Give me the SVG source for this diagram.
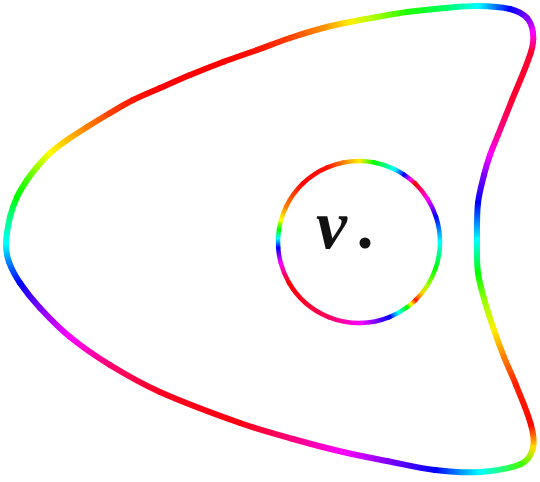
<svg xmlns="http://www.w3.org/2000/svg" width="540" height="482" viewBox="0 0 540 482">
<style>
.o{fill:none;stroke-width:6;stroke-linecap:round}
.c{fill:none;stroke-width:4.5;stroke-linecap:round}
.lbl{font-family:"Liberation Serif","DejaVu Serif",serif;font-style:italic;font-weight:bold;font-size:70px;fill:#111}
</style>
<defs>
<linearGradient id="o0" gradientUnits="userSpaceOnUse" x1="6" y1="244" x2="10" y2="217"><stop stop-color="#00ffff"/><stop offset="1" stop-color="#00ff80"/></linearGradient>
<linearGradient id="o1" gradientUnits="userSpaceOnUse" x1="10" y1="217" x2="17" y2="197"><stop stop-color="#00ff80"/><stop offset="1" stop-color="#00ff00"/></linearGradient>
<linearGradient id="o2" gradientUnits="userSpaceOnUse" x1="17" y1="197" x2="27" y2="180"><stop stop-color="#00ff00"/><stop offset="1" stop-color="#40ff00"/></linearGradient>
<linearGradient id="o3" gradientUnits="userSpaceOnUse" x1="27" y1="180" x2="37" y2="167"><stop stop-color="#40ff00"/><stop offset="1" stop-color="#a0ff00"/></linearGradient>
<linearGradient id="o4" gradientUnits="userSpaceOnUse" x1="37" y1="167" x2="50" y2="153"><stop stop-color="#a0ff00"/><stop offset="1" stop-color="#ffff00"/></linearGradient>
<linearGradient id="o5" gradientUnits="userSpaceOnUse" x1="50" y1="153" x2="67" y2="140"><stop stop-color="#ffff00"/><stop offset="1" stop-color="#ffc000"/></linearGradient>
<linearGradient id="o6" gradientUnits="userSpaceOnUse" x1="67" y1="140" x2="87" y2="127"><stop stop-color="#ffc000"/><stop offset="1" stop-color="#ff8000"/></linearGradient>
<linearGradient id="o7" gradientUnits="userSpaceOnUse" x1="87" y1="127" x2="110" y2="113"><stop stop-color="#ff8000"/><stop offset="1" stop-color="#ff4000"/></linearGradient>
<linearGradient id="o8" gradientUnits="userSpaceOnUse" x1="110" y1="113" x2="133" y2="100"><stop stop-color="#ff4000"/><stop offset="1" stop-color="#ff1800"/></linearGradient>
<linearGradient id="o9" gradientUnits="userSpaceOnUse" x1="133" y1="100" x2="160" y2="88"><stop stop-color="#ff1800"/><stop offset="1" stop-color="#ff0000"/></linearGradient>
<linearGradient id="o12" gradientUnits="userSpaceOnUse" x1="223" y1="62" x2="257" y2="50"><stop stop-color="#ff0000"/><stop offset="1" stop-color="#ff1000"/></linearGradient>
<linearGradient id="o13" gradientUnits="userSpaceOnUse" x1="257" y1="50" x2="290" y2="38"><stop stop-color="#ff1000"/><stop offset="1" stop-color="#ff4000"/></linearGradient>
<linearGradient id="o14" gradientUnits="userSpaceOnUse" x1="290" y1="38" x2="323" y2="28"><stop stop-color="#ff4000"/><stop offset="1" stop-color="#ff9000"/></linearGradient>
<linearGradient id="o15" gradientUnits="userSpaceOnUse" x1="323" y1="28" x2="350" y2="22"><stop stop-color="#ff9000"/><stop offset="1" stop-color="#ffee00"/></linearGradient>
<linearGradient id="o16" gradientUnits="userSpaceOnUse" x1="350" y1="22" x2="377" y2="17"><stop stop-color="#ffee00"/><stop offset="1" stop-color="#a0ff00"/></linearGradient>
<linearGradient id="o17" gradientUnits="userSpaceOnUse" x1="377" y1="17" x2="407" y2="12"><stop stop-color="#a0ff00"/><stop offset="1" stop-color="#20ff00"/></linearGradient>
<linearGradient id="o18" gradientUnits="userSpaceOnUse" x1="407" y1="12" x2="445" y2="8"><stop stop-color="#20ff00"/><stop offset="1" stop-color="#00ff60"/></linearGradient>
<linearGradient id="o19" gradientUnits="userSpaceOnUse" x1="445" y1="8" x2="478" y2="6"><stop stop-color="#00ff60"/><stop offset="1" stop-color="#00ffff"/></linearGradient>
<linearGradient id="o20" gradientUnits="userSpaceOnUse" x1="478" y1="6" x2="510" y2="9"><stop stop-color="#00ffff"/><stop offset="1" stop-color="#0000ff"/></linearGradient>
<linearGradient id="o21" gradientUnits="userSpaceOnUse" x1="510" y1="9" x2="527" y2="18"><stop stop-color="#0000ff"/><stop offset="1" stop-color="#8000ff"/></linearGradient>
<linearGradient id="o22" gradientUnits="userSpaceOnUse" x1="527" y1="18" x2="533" y2="33"><stop stop-color="#8000ff"/><stop offset="1" stop-color="#ff00ff"/></linearGradient>
<linearGradient id="o23" gradientUnits="userSpaceOnUse" x1="533" y1="33" x2="531" y2="52"><stop stop-color="#ff00ff"/><stop offset="1" stop-color="#ff0030"/></linearGradient>
<linearGradient id="o25" gradientUnits="userSpaceOnUse" x1="512" y1="100" x2="498" y2="135"><stop stop-color="#ff0030"/><stop offset="1" stop-color="#ff0090"/></linearGradient>
<linearGradient id="o26" gradientUnits="userSpaceOnUse" x1="498" y1="135" x2="490" y2="155"><stop stop-color="#ff0090"/><stop offset="1" stop-color="#ff00ff"/></linearGradient>
<linearGradient id="o27" gradientUnits="userSpaceOnUse" x1="490" y1="155" x2="484" y2="175"><stop stop-color="#ff00ff"/><stop offset="1" stop-color="#8000ff"/></linearGradient>
<linearGradient id="o28" gradientUnits="userSpaceOnUse" x1="484" y1="175" x2="478" y2="203"><stop stop-color="#8000ff"/><stop offset="1" stop-color="#0000ff"/></linearGradient>
<linearGradient id="o29" gradientUnits="userSpaceOnUse" x1="478" y1="203" x2="477" y2="240"><stop stop-color="#0000ff"/><stop offset="1" stop-color="#00ffff"/></linearGradient>
<linearGradient id="o30" gradientUnits="userSpaceOnUse" x1="477" y1="240" x2="478" y2="273"><stop stop-color="#00ffff"/><stop offset="1" stop-color="#00ff00"/></linearGradient>
<linearGradient id="o31" gradientUnits="userSpaceOnUse" x1="478" y1="273" x2="485" y2="302"><stop stop-color="#00ff00"/><stop offset="1" stop-color="#a0ff00"/></linearGradient>
<linearGradient id="o32" gradientUnits="userSpaceOnUse" x1="485" y1="302" x2="494" y2="330"><stop stop-color="#a0ff00"/><stop offset="1" stop-color="#ffee00"/></linearGradient>
<linearGradient id="o33" gradientUnits="userSpaceOnUse" x1="494" y1="330" x2="504" y2="357"><stop stop-color="#ffee00"/><stop offset="1" stop-color="#ff8000"/></linearGradient>
<linearGradient id="o34" gradientUnits="userSpaceOnUse" x1="504" y1="357" x2="516" y2="385"><stop stop-color="#ff8000"/><stop offset="1" stop-color="#ff2000"/></linearGradient>
<linearGradient id="o35" gradientUnits="userSpaceOnUse" x1="516" y1="385" x2="531" y2="425"><stop stop-color="#ff2000"/><stop offset="1" stop-color="#ff0800"/></linearGradient>
<linearGradient id="o36" gradientUnits="userSpaceOnUse" x1="531" y1="425" x2="533" y2="448"><stop stop-color="#ff0800"/><stop offset="1" stop-color="#ffdd00"/></linearGradient>
<linearGradient id="o37" gradientUnits="userSpaceOnUse" x1="533" y1="448" x2="521" y2="464"><stop stop-color="#ffdd00"/><stop offset="1" stop-color="#40ff00"/></linearGradient>
<linearGradient id="o38" gradientUnits="userSpaceOnUse" x1="521" y1="464" x2="480" y2="472"><stop stop-color="#40ff00"/><stop offset="1" stop-color="#00ffff"/></linearGradient>
<linearGradient id="o39" gradientUnits="userSpaceOnUse" x1="480" y1="472" x2="435" y2="470"><stop stop-color="#00ffff"/><stop offset="1" stop-color="#0000ff"/></linearGradient>
<linearGradient id="o40" gradientUnits="userSpaceOnUse" x1="435" y1="470" x2="387" y2="461"><stop stop-color="#0000ff"/><stop offset="1" stop-color="#8000ff"/></linearGradient>
<linearGradient id="o41" gradientUnits="userSpaceOnUse" x1="387" y1="461" x2="343" y2="452"><stop stop-color="#8000ff"/><stop offset="1" stop-color="#ff00ff"/></linearGradient>
<linearGradient id="o42" gradientUnits="userSpaceOnUse" x1="343" y1="452" x2="293" y2="439"><stop stop-color="#ff00ff"/><stop offset="1" stop-color="#ff0080"/></linearGradient>
<linearGradient id="o43" gradientUnits="userSpaceOnUse" x1="293" y1="439" x2="240" y2="423"><stop stop-color="#ff0080"/><stop offset="1" stop-color="#ff0010"/></linearGradient>
<linearGradient id="o44" gradientUnits="userSpaceOnUse" x1="240" y1="423" x2="160" y2="392"><stop stop-color="#ff0010"/><stop offset="1" stop-color="#ff0020"/></linearGradient>
<linearGradient id="o45" gradientUnits="userSpaceOnUse" x1="160" y1="392" x2="110" y2="365"><stop stop-color="#ff0020"/><stop offset="1" stop-color="#ff0070"/></linearGradient>
<linearGradient id="o46" gradientUnits="userSpaceOnUse" x1="110" y1="365" x2="70" y2="337"><stop stop-color="#ff0070"/><stop offset="1" stop-color="#ff00ff"/></linearGradient>
<linearGradient id="o47" gradientUnits="userSpaceOnUse" x1="70" y1="337" x2="40" y2="308"><stop stop-color="#ff00ff"/><stop offset="1" stop-color="#8000ff"/></linearGradient>
<linearGradient id="o48" gradientUnits="userSpaceOnUse" x1="40" y1="308" x2="20" y2="283"><stop stop-color="#8000ff"/><stop offset="1" stop-color="#0000ff"/></linearGradient>
<linearGradient id="o49" gradientUnits="userSpaceOnUse" x1="20" y1="283" x2="9" y2="262"><stop stop-color="#0000ff"/><stop offset="1" stop-color="#0080ff"/></linearGradient>
<linearGradient id="o50" gradientUnits="userSpaceOnUse" x1="9" y1="262" x2="6" y2="244"><stop stop-color="#0080ff"/><stop offset="1" stop-color="#00ffff"/></linearGradient>

<linearGradient id="c0" gradientUnits="userSpaceOnUse" x1="359" y1="161" x2="374.46" y2="162.49"><stop stop-color="#ffee00"/><stop offset="1" stop-color="#00ff00"/></linearGradient>
<linearGradient id="c1" gradientUnits="userSpaceOnUse" x1="374.46" y1="162.49" x2="394.51" y2="169.2"><stop stop-color="#00ff00"/><stop offset="1" stop-color="#00ffff"/></linearGradient>
<linearGradient id="c2" gradientUnits="userSpaceOnUse" x1="394.51" y1="169.2" x2="404.29" y2="174.85"><stop stop-color="#00ffff"/><stop offset="1" stop-color="#0000ff"/></linearGradient>
<linearGradient id="c3" gradientUnits="userSpaceOnUse" x1="404.29" y1="174.85" x2="415.27" y2="183.73"><stop stop-color="#0000ff"/><stop offset="0.5" stop-color="#ff00ff"/><stop offset="1" stop-color="#ff0000"/></linearGradient>
<linearGradient id="c4" gradientUnits="userSpaceOnUse" x1="415.27" y1="183.73" x2="427.69" y2="199.08"><stop stop-color="#ff0000"/><stop offset="1" stop-color="#ff00ff"/></linearGradient>
<linearGradient id="c5" gradientUnits="userSpaceOnUse" x1="427.69" y1="199.08" x2="436.04" y2="216.97"><stop stop-color="#ff00ff"/><stop offset="1" stop-color="#0000ff"/></linearGradient>
<linearGradient id="c6" gradientUnits="userSpaceOnUse" x1="436.04" y1="216.97" x2="440" y2="242"><stop stop-color="#0000ff"/><stop offset="1" stop-color="#00ffff"/></linearGradient>
<linearGradient id="c7" gradientUnits="userSpaceOnUse" x1="440" y1="242" x2="435.59" y2="268.37"><stop stop-color="#00ffff"/><stop offset="1" stop-color="#00ff00"/></linearGradient>
<linearGradient id="c8" gradientUnits="userSpaceOnUse" x1="435.59" y1="268.37" x2="426.93" y2="286.11"><stop stop-color="#00ff00"/><stop offset="1" stop-color="#aaff00"/></linearGradient>
<linearGradient id="c9" gradientUnits="userSpaceOnUse" x1="426.93" y1="286.11" x2="415.27" y2="300.27"><stop stop-color="#aaff00"/><stop offset="0.5" stop-color="#ffcc00"/><stop offset="1" stop-color="#ff2000"/></linearGradient>
<linearGradient id="c10" gradientUnits="userSpaceOnUse" x1="415.27" y1="300.27" x2="406.61" y2="307.53"><stop stop-color="#ff2000"/><stop offset="0.5" stop-color="#ffff00"/><stop offset="1" stop-color="#00ff00"/></linearGradient>
<linearGradient id="c11" gradientUnits="userSpaceOnUse" x1="406.61" y1="307.53" x2="389.34" y2="317.1"><stop stop-color="#00ff00"/><stop offset="0.5" stop-color="#00ffff"/><stop offset="1" stop-color="#0000ff"/></linearGradient>
<linearGradient id="c12" gradientUnits="userSpaceOnUse" x1="389.34" y1="317.1" x2="360.41" y2="322.99"><stop stop-color="#0000ff"/><stop offset="1" stop-color="#ff00ff"/></linearGradient>
<linearGradient id="c13" gradientUnits="userSpaceOnUse" x1="360.41" y1="322.99" x2="328.66" y2="317.1"><stop stop-color="#ff00ff"/><stop offset="1" stop-color="#ff0060"/></linearGradient>
<linearGradient id="c14" gradientUnits="userSpaceOnUse" x1="328.66" y1="317.1" x2="288.85" y2="282.5"><stop stop-color="#ff0060"/><stop offset="1" stop-color="#ff0000"/></linearGradient>
<linearGradient id="c15" gradientUnits="userSpaceOnUse" x1="288.85" y1="282.5" x2="280.76" y2="262.96"><stop stop-color="#ff0000"/><stop offset="1" stop-color="#ff00ff"/></linearGradient>
<linearGradient id="c16" gradientUnits="userSpaceOnUse" x1="280.76" y1="262.96" x2="278.19" y2="247.65"><stop stop-color="#ff00ff"/><stop offset="1" stop-color="#0000ff"/></linearGradient>
<linearGradient id="c17" gradientUnits="userSpaceOnUse" x1="278.19" y1="247.65" x2="278.99" y2="229.33"><stop stop-color="#0000ff"/><stop offset="0.5" stop-color="#00ffff"/><stop offset="1" stop-color="#00ff00"/></linearGradient>
<linearGradient id="c18" gradientUnits="userSpaceOnUse" x1="278.99" y1="229.33" x2="281.14" y2="219.67"><stop stop-color="#00ff00"/><stop offset="1" stop-color="#ffff00"/></linearGradient>
<linearGradient id="c19" gradientUnits="userSpaceOnUse" x1="281.14" y1="219.67" x2="286.2" y2="206.49"><stop stop-color="#ffff00"/><stop offset="1" stop-color="#ff8000"/></linearGradient>
<linearGradient id="c20" gradientUnits="userSpaceOnUse" x1="286.2" y1="206.49" x2="302.73" y2="183.73"><stop stop-color="#ff8000"/><stop offset="1" stop-color="#ff0000"/></linearGradient>
<linearGradient id="c21" gradientUnits="userSpaceOnUse" x1="302.73" y1="183.73" x2="327.35" y2="167.44"><stop stop-color="#ff0000"/><stop offset="1" stop-color="#ff1000"/></linearGradient>
<linearGradient id="c22" gradientUnits="userSpaceOnUse" x1="327.35" y1="167.44" x2="343.54" y2="162.49"><stop stop-color="#ff1000"/><stop offset="1" stop-color="#ff8000"/></linearGradient>
<linearGradient id="c23" gradientUnits="userSpaceOnUse" x1="343.54" y1="162.49" x2="359" y2="161"><stop stop-color="#ff8000"/><stop offset="1" stop-color="#ffee00"/></linearGradient>
</defs>
<rect width="540" height="482" fill="#ffffff"/>
<g id="outer-curve">
<path class="o" stroke="url(#o0)" d="M6,244 C6.2,234.9 7.93,225.86 10,217"/>
<path class="o" stroke="url(#o1)" d="M10,217 C11.61,210.12 14.05,203.42 17,197"/>
<path class="o" stroke="url(#o2)" d="M17,197 C19.74,191.03 23.36,185.47 27,180"/>
<path class="o" stroke="url(#o3)" d="M27,180 C30.03,175.45 33.45,171.16 37,167"/>
<path class="o" stroke="url(#o4)" d="M37,167 C41.13,162.15 45.27,157.26 50,153"/>
<path class="o" stroke="url(#o5)" d="M50,153 C55.3,148.23 61.17,144.1 67,140"/>
<path class="o" stroke="url(#o6)" d="M67,140 C73.5,135.43 80.27,131.23 87,127"/>
<path class="o" stroke="url(#o7)" d="M87,127 C94.61,122.22 102.26,117.55 110,113"/>
<path class="o" stroke="url(#o8)" d="M110,113 C117.6,108.54 125.12,103.94 133,100"/>
<path class="o" stroke="url(#o9)" d="M133,100 C141.81,95.6 150.98,91.96 160,88"/>
<path class="o" stroke="#ff0000" d="M160,88 C169.98,83.62 179.92,79.16 190,75"/>
<path class="o" stroke="#ff0000" d="M190,75 C200.93,70.49 211.93,66.13 223,62"/>
<path class="o" stroke="url(#o12)" d="M223,62 C234.26,57.8 245.68,54.05 257,50"/>
<path class="o" stroke="url(#o13)" d="M257,50 C268.01,46.05 278.9,41.7 290,38"/>
<path class="o" stroke="url(#o14)" d="M290,38 C300.9,34.37 311.9,30.96 323,28"/>
<path class="o" stroke="url(#o15)" d="M323,28 C331.91,25.62 340.97,23.84 350,22"/>
<path class="o" stroke="url(#o16)" d="M350,22 C358.97,20.17 367.99,18.58 377,17"/>
<path class="o" stroke="url(#o17)" d="M377,17 C386.99,15.25 396.95,13.33 407,12"/>
<path class="o" stroke="url(#o18)" d="M407,12 C419.63,10.33 432.3,9.07 445,8"/>
<path class="o" stroke="url(#o19)" d="M445,8 C455.98,7.07 466.98,5.83 478,6"/>
<path class="o" stroke="url(#o20)" d="M478,6 C488.71,6.16 499.6,6.45 510,9"/>
<path class="o" stroke="url(#o21)" d="M510,9 C516.23,10.52 522.56,13.37 527,18"/>
<path class="o" stroke="url(#o22)" d="M527,18 C530.73,21.89 532.37,27.65 533,33"/>
<path class="o" stroke="url(#o23)" d="M533,33 C533.74,39.33 532.91,45.92 531,52"/>
<path class="o" stroke="#ff0030" d="M531,52 C525.85,68.42 518.36,84.01 512,100"/>
<path class="o" stroke="url(#o25)" d="M512,100 C507.36,111.68 502.67,123.33 498,135"/>
<path class="o" stroke="url(#o26)" d="M498,135 C495.33,141.67 492.37,148.22 490,155"/>
<path class="o" stroke="url(#o27)" d="M490,155 C487.7,161.57 485.69,168.25 484,175"/>
<path class="o" stroke="url(#o28)" d="M484,175 C481.68,184.26 479.02,193.51 478,203"/>
<path class="o" stroke="url(#o29)" d="M478,203 C476.68,215.27 477,227.66 477,240"/>
<path class="o" stroke="url(#o30)" d="M477,240 C477,251.01 476.59,262.08 478,273"/>
<path class="o" stroke="url(#o31)" d="M478,273 C479.27,282.86 482.31,292.43 485,302"/>
<path class="o" stroke="url(#o32)" d="M485,302 C487.65,311.44 490.8,320.74 494,330"/>
<path class="o" stroke="url(#o33)" d="M494,330 C497.13,339.07 500.43,348.09 504,357"/>
<path class="o" stroke="url(#o34)" d="M504,357 C507.77,366.42 512.25,375.57 516,385"/>
<path class="o" stroke="url(#o35)" d="M516,385 C521.25,398.23 527.29,411.25 531,425"/>
<path class="o" stroke="url(#o36)" d="M531,425 C533.01,432.43 534.91,440.54 533,448"/>
<path class="o" stroke="url(#o37)" d="M533,448 C531.34,454.46 527.08,461.25 521,464"/>
<path class="o" stroke="url(#o38)" d="M521,464 C508.32,469.74 493.89,471.03 480,472"/>
<path class="o" stroke="url(#o39)" d="M480,472 C465.03,473.04 449.91,471.76 435,470"/>
<path class="o" stroke="url(#o40)" d="M435,470 C418.83,468.09 402.98,464.13 387,461"/>
<path class="o" stroke="url(#o41)" d="M387,461 C372.31,458.13 357.58,455.41 343,452"/>
<path class="o" stroke="url(#o42)" d="M343,452 C326.23,448.08 309.58,443.67 293,439"/>
<path class="o" stroke="url(#o43)" d="M293,439 C275.24,434 257.4,429.15 240,423"/>
<path class="o" stroke="url(#o44)" d="M240,423 C213.03,413.47 186.12,403.65 160,392"/>
<path class="o" stroke="url(#o45)" d="M160,392 C142.7,384.28 126.16,374.88 110,365"/>
<path class="o" stroke="url(#o46)" d="M110,365 C96.11,356.51 82.62,347.28 70,337"/>
<path class="o" stroke="url(#o47)" d="M70,337 C59.21,328.22 49.45,318.21 40,308"/>
<path class="o" stroke="url(#o48)" d="M40,308 C32.75,300.17 25.96,291.85 20,283"/>
<path class="o" stroke="url(#o49)" d="M20,283 C15.58,276.45 11.67,269.43 9,262"/>
<path class="o" stroke="url(#o50)" d="M9,262 C6.95,256.28 5.87,250.08 6,244"/>
</g>
<g id="inner-circle">
<path class="c" stroke="url(#c0)" d="M359,161 A81,81 0 0 1 374.46,162.49"/>
<path class="c" stroke="url(#c1)" d="M374.46,162.49 A81,81 0 0 1 394.51,169.2"/>
<path class="c" stroke="url(#c2)" d="M394.51,169.2 A81,81 0 0 1 404.29,174.85"/>
<path class="c" stroke="url(#c3)" d="M404.29,174.85 A81,81 0 0 1 415.27,183.73"/>
<path class="c" stroke="url(#c4)" d="M415.27,183.73 A81,81 0 0 1 427.69,199.08"/>
<path class="c" stroke="url(#c5)" d="M427.69,199.08 A81,81 0 0 1 436.04,216.97"/>
<path class="c" stroke="url(#c6)" d="M436.04,216.97 A81,81 0 0 1 440,242"/>
<path class="c" stroke="url(#c7)" d="M440,242 A81,81 0 0 1 435.59,268.37"/>
<path class="c" stroke="url(#c8)" d="M435.59,268.37 A81,81 0 0 1 426.93,286.11"/>
<path class="c" stroke="url(#c9)" d="M426.93,286.11 A81,81 0 0 1 415.27,300.27"/>
<path class="c" stroke="url(#c10)" d="M415.27,300.27 A81,81 0 0 1 406.61,307.53"/>
<path class="c" stroke="url(#c11)" d="M406.61,307.53 A81,81 0 0 1 389.34,317.1"/>
<path class="c" stroke="url(#c12)" d="M389.34,317.1 A81,81 0 0 1 360.41,322.99"/>
<path class="c" stroke="url(#c13)" d="M360.41,322.99 A81,81 0 0 1 328.66,317.1"/>
<path class="c" stroke="url(#c14)" d="M328.66,317.1 A81,81 0 0 1 288.85,282.5"/>
<path class="c" stroke="url(#c15)" d="M288.85,282.5 A81,81 0 0 1 280.76,262.96"/>
<path class="c" stroke="url(#c16)" d="M280.76,262.96 A81,81 0 0 1 278.19,247.65"/>
<path class="c" stroke="url(#c17)" d="M278.19,247.65 A81,81 0 0 1 278.99,229.33"/>
<path class="c" stroke="url(#c18)" d="M278.99,229.33 A81,81 0 0 1 281.14,219.67"/>
<path class="c" stroke="url(#c19)" d="M281.14,219.67 A81,81 0 0 1 286.2,206.49"/>
<path class="c" stroke="url(#c20)" d="M286.2,206.49 A81,81 0 0 1 302.73,183.73"/>
<path class="c" stroke="url(#c21)" d="M302.73,183.73 A81,81 0 0 1 327.35,167.44"/>
<path class="c" stroke="url(#c22)" d="M327.35,167.44 A81,81 0 0 1 343.54,162.49"/>
<path class="c" stroke="url(#c23)" d="M343.54,162.49 A81,81 0 0 1 359,161"/>
</g>
<g id="label">
<text class="lbl" x="316" y="248">v</text>
<circle cx="365" cy="243" r="5.5" fill="#111"/>
</g>
</svg>
